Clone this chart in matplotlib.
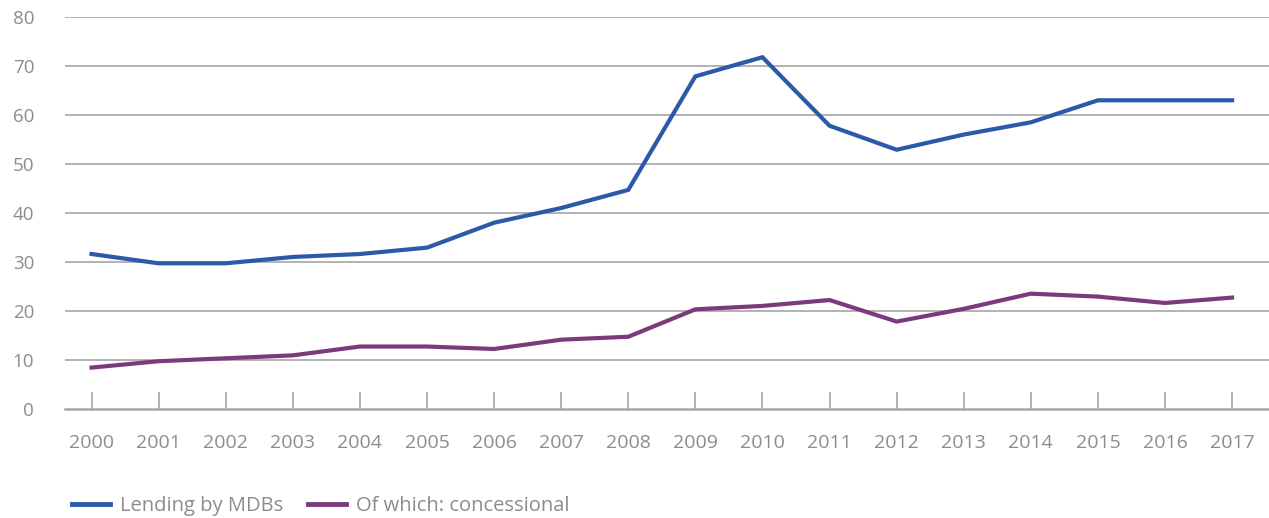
import matplotlib
matplotlib.use("Agg")
import matplotlib.pyplot as plt
from matplotlib.lines import Line2D

years = [str(y) for y in range(2000, 2018)]
lending = [31.6, 29.7, 29.7, 31.0, 31.6, 32.9, 38.0, 41.0, 44.7, 67.9, 71.8,
           57.8, 52.9, 56.0, 58.5, 63.0, 63.0, 63.0]
concessional = [8.4, 9.7, 10.3, 10.9, 12.7, 12.7, 12.2, 14.1, 14.7, 20.3, 21.0,
                22.2, 17.8, 20.4, 23.5, 22.9, 21.6, 22.7]
series_names = ["Lending by MDBs", "Of which: concessional"]
yticks = [0, 10, 20, 30, 40, 50, 60, 70, 80]

blue = "#2b5ba8"
purple = "#7b3a7d"
grid_c = "#a6a6a6"
text_c = "#8c8c8c"

plt.rcParams['font.family'] = ['Open Sans', 'DejaVu Sans']

fig = plt.figure(figsize=(12.69, 5.18), dpi=100)
ax = fig.add_axes([0.051, 0.211, 0.949, 0.756])

x = list(range(len(years)))
ax.plot(x, lending, color=blue, lw=3.0, solid_joinstyle='miter', zorder=3)
ax.plot(x, concessional, color=purple, lw=3.0, solid_joinstyle='miter', zorder=3)

ax.set_ylim(0, 80)
ax.set_xlim(-0.4, 17.55)
ax.set_yticks(yticks)
ax.set_yticklabels([str(v) for v in yticks])
ax.set_xticks(x)
ax.set_xticklabels(years)
for v in yticks[1:]:
    ax.axhline(v, color=grid_c, lw=1.2, zorder=1)

for s in ["top", "right", "left"]:
    ax.spines[s].set_visible(False)
ax.spines["bottom"].set_color(grid_c)
ax.spines["bottom"].set_linewidth(1.8)

ax.tick_params(axis='x', direction='in', length=12, width=1.2, color=grid_c,
               labelcolor=text_c, labelsize=14, pad=18)
ax.tick_params(axis='y', length=0, labelcolor=text_c, labelsize=13.5, pad=22)

handles = [Line2D([0], [0], color=blue, lw=3.5),
           Line2D([0], [0], color=purple, lw=3.5)]
leg = fig.legend(handles, series_names, loc='center left',
                 bbox_to_anchor=(72 / 1269, 1 - 506 / 518),
                 ncol=2, frameon=False, fontsize=14.5, handlelength=1.9,
                 handletextpad=0.5, columnspacing=1.2, borderpad=0,
                 borderaxespad=0)
for t in leg.get_texts():
    t.set_color(text_c)

fig.savefig("out.png", dpi=100)
